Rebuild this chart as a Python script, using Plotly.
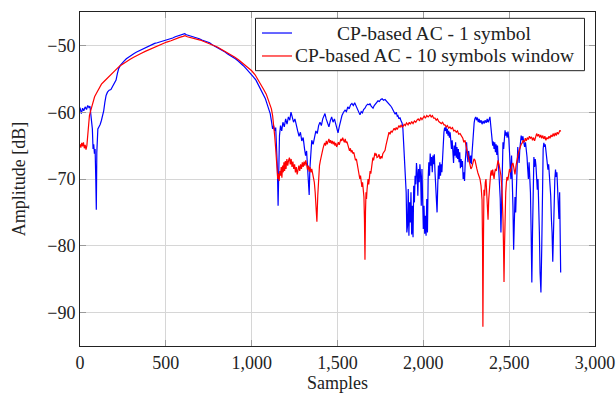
import plotly.graph_objects as go

# ---------------- data ----------------
x_ticks = [0, 500, 1000, 1500, 2000, 2500, 3000]
x_tick_labels = ["0", "500", "1,000", "1,500", "2,000", "2,500", "3,000"]
y_ticks = [-90, -80, -70, -60, -50]
y_tick_labels = ["\u221290", "\u221280", "\u221270", "\u221260", "\u221250"]

x_title = "Samples"
y_title = "Amplitude [dB]"
series_names = ["CP-based AC - 1 symbol", "CP-based AC - 10 symbols window"]
series_colors = ["#0000ff", "#ff0000"]

blue_points = [
    (0, -59.3), (8, -60.2), (15, -59.4), (22, -59.8), (30, -59.2), (38, -59.6), (45, -59.0), (52, -59.3),
    (58, -59.1), (63, -60.2), (68, -61.8), (72, -62.5), (76, -65.5), (80, -64.8), (84, -66.2), (88, -65.5),
    (92, -70.0), (95, -74.6), (98, -66.0), (101, -64.5), (104, -62.5), (110, -62.2), (118, -61.8), (125, -61.2),
    (132, -60.5), (138, -59.8), (145, -58.5), (152, -57.5), (160, -57.0), (170, -56.7), (180, -56.6), (190, -56.2),
    (200, -55.7), (210, -55.2), (218, -54.2), (225, -53.5), (235, -53.0), (245, -52.6), (255, -52.4), (270, -52.0),
    (285, -51.7), (300, -51.5), (315, -51.2), (330, -51.0), (345, -50.8), (360, -50.6), (375, -50.4), (390, -50.2),
    (405, -50.0), (420, -49.9), (435, -49.7), (450, -49.6), (465, -49.5), (480, -49.3), (495, -49.2), (510, -49.2),
    (525, -49.0), (540, -48.9), (555, -48.7), (570, -48.6), (585, -48.5), (600, -48.4), (610, -48.25), (620, -48.4),
    (635, -48.5), (650, -48.6), (665, -48.7), (680, -48.9), (695, -49.0), (710, -49.2), (725, -49.3), (740, -49.5),
    (755, -49.6), (770, -49.9), (785, -50.1), (800, -50.3), (815, -50.5), (830, -50.8), (845, -51.0), (860, -51.3),
    (875, -51.5), (890, -51.8), (905, -52.0), (920, -52.3), (935, -52.6), (950, -53.0), (965, -53.4), (980, -53.8),
    (995, -54.3), (1010, -54.7), (1025, -55.2), (1040, -56.0), (1050, -56.5), (1060, -57.0), (1070, -57.5),
    (1080, -58.0), (1090, -58.8), (1100, -59.5), (1108, -60.2), (1115, -61.3), (1122, -62.5), (1128, -62.0),
    (1134, -62.8), (1140, -62.3), (1145, -64.5), (1150, -68.5), (1154, -74.0), (1158, -66.5), (1162, -63.5),
    (1168, -62.0), (1175, -62.8), (1182, -61.5), (1190, -62.2), (1198, -61.0), (1206, -61.8), (1214, -60.7),
    (1222, -61.2), (1229, -60.0), (1236, -60.8), (1244, -61.5), (1252, -61.0), (1260, -62.2), (1268, -62.8),
    (1276, -63.6), (1284, -63.0), (1292, -64.3), (1300, -63.8), (1308, -65.5), (1314, -66.5), (1320, -65.8),
    (1326, -68.0), (1331, -70.5), (1335, -72.4), (1339, -68.5), (1344, -65.5), (1350, -64.2), (1358, -64.8),
    (1366, -63.5), (1374, -62.8), (1382, -63.2), (1390, -62.0), (1398, -61.5), (1406, -62.0), (1414, -61.0),
    (1421, -60.6), (1427, -60.2), (1434, -61.0), (1442, -61.8), (1450, -62.2), (1458, -61.3), (1466, -60.7),
    (1474, -61.5), (1482, -61.0), (1490, -61.8), (1497, -62.5), (1503, -63.1), (1510, -62.2), (1518, -61.2),
    (1526, -60.5), (1535, -60.0), (1544, -59.7), (1552, -59.9), (1560, -59.2), (1568, -59.5), (1576, -58.9),
    (1584, -58.7), (1592, -59.0), (1600, -58.6), (1608, -59.1), (1614, -59.2), (1620, -59.8), (1626, -60.2),
    (1631, -60.4), (1638, -59.9), (1645, -60.1), (1652, -59.6), (1660, -59.4), (1668, -59.0), (1676, -58.8),
    (1684, -58.9), (1689, -58.7), (1696, -59.1), (1702, -59.3), (1707, -59.4), (1714, -59.0), (1722, -58.7),
    (1729, -58.5), (1736, -58.3), (1744, -58.4), (1752, -58.1), (1760, -58.0), (1768, -58.2), (1777, -58.1),
    (1785, -58.3), (1793, -58.6), (1800, -58.7), (1808, -59.0), (1816, -59.3), (1824, -59.6), (1830, -60.0),
    (1836, -60.3), (1842, -60.0), (1848, -60.6), (1852, -60.5), (1858, -61.0), (1864, -60.8), (1870, -61.3),
    (1876, -61.6), (1881, -62.5), (1885, -64.2), (1890, -66.5), (1895, -69.0), (1900, -72.0), (1904, -78.0),
    (1908, -77.0), (1912, -71.5), (1916, -78.5), (1920, -73.5), (1924, -76.5), (1928, -72.0), (1932, -78.3),
    (1936, -74.0), (1940, -78.7), (1944, -71.0), (1948, -73.5), (1952, -69.5), (1956, -70.8), (1960, -67.6),
    (1964, -69.0), (1968, -72.5), (1972, -68.5), (1976, -70.5), (1980, -67.8), (1984, -69.5), (1988, -74.0),
    (1992, -68.5), (1996, -72.0), (2000, -77.5), (2004, -74.0), (2008, -78.2), (2012, -75.5), (2016, -78.5),
    (2020, -73.0), (2024, -78.0), (2028, -70.0), (2032, -67.5), (2036, -69.5), (2040, -66.2), (2044, -68.0),
    (2048, -66.7), (2052, -69.0), (2056, -66.5), (2060, -67.8), (2064, -66.3), (2068, -69.0), (2072, -71.5),
    (2076, -73.5), (2080, -75.0), (2084, -71.0), (2088, -68.0), (2092, -70.0), (2096, -67.5), (2100, -69.5),
    (2104, -67.8), (2108, -69.0), (2112, -66.5), (2116, -64.5), (2120, -63.0), (2124, -62.3), (2128, -62.8),
    (2132, -62.2), (2136, -63.2), (2140, -62.5), (2144, -63.5), (2148, -62.8), (2152, -63.8), (2156, -63.0),
    (2160, -64.0), (2164, -65.5), (2168, -64.2), (2172, -66.0), (2176, -67.6), (2180, -65.0), (2184, -66.5),
    (2188, -64.5), (2192, -66.8), (2196, -65.2), (2200, -67.0), (2204, -65.5), (2208, -67.5), (2212, -66.0),
    (2216, -68.4), (2220, -67.0), (2224, -68.2), (2228, -67.3), (2232, -70.0), (2236, -69.0), (2240, -70.3),
    (2244, -67.5), (2248, -65.5), (2252, -64.5), (2256, -66.5), (2260, -67.5), (2264, -65.8), (2268, -67.2),
    (2272, -67.6), (2276, -66.5), (2280, -67.8), (2284, -66.0), (2288, -64.0), (2292, -62.5), (2296, -61.6),
    (2300, -61.0), (2305, -60.7), (2310, -61.2), (2315, -60.8), (2320, -61.5), (2325, -61.0), (2330, -61.6),
    (2336, -61.2), (2342, -61.8), (2348, -61.3), (2354, -61.7), (2360, -61.2), (2366, -61.6), (2372, -61.0),
    (2378, -61.5), (2384, -61.0), (2388, -60.7), (2392, -61.8), (2396, -63.0), (2400, -64.2), (2404, -65.0),
    (2408, -64.4), (2412, -65.5), (2416, -64.5), (2420, -66.0), (2424, -64.8), (2428, -66.4), (2432, -65.0),
    (2436, -67.0), (2440, -68.5), (2444, -70.0), (2448, -73.0), (2452, -78.0), (2456, -72.0), (2460, -66.0),
    (2464, -64.5), (2468, -65.5), (2472, -63.5), (2476, -62.7), (2480, -63.5), (2484, -63.0), (2488, -63.8),
    (2493, -62.9), (2498, -64.0), (2502, -65.5), (2506, -68.0), (2510, -70.0), (2514, -66.5), (2518, -69.5),
    (2522, -74.0), (2526, -80.6), (2530, -76.0), (2534, -72.7), (2538, -75.0), (2542, -70.5), (2546, -67.0),
    (2550, -65.2), (2554, -66.5), (2558, -67.6), (2562, -65.5), (2566, -64.5), (2570, -63.5), (2575, -64.2),
    (2580, -63.6), (2585, -64.5), (2590, -65.2), (2595, -64.5), (2600, -65.5), (2604, -66.7), (2608, -68.5),
    (2612, -70.0), (2616, -67.5), (2620, -69.5), (2624, -72.0), (2628, -78.0), (2632, -85.5), (2636, -78.0),
    (2640, -68.0), (2644, -66.7), (2648, -68.2), (2652, -67.0), (2656, -68.0), (2660, -69.5), (2664, -71.6),
    (2668, -70.0), (2672, -73.0), (2676, -78.0), (2680, -84.0), (2685, -87.0), (2690, -80.0), (2694, -70.0),
    (2698, -65.5), (2702, -64.6), (2706, -65.2), (2710, -64.8), (2714, -65.7), (2718, -66.5), (2722, -67.2),
    (2726, -68.6), (2730, -67.8), (2734, -69.5), (2738, -70.0), (2742, -72.5), (2746, -76.0), (2750, -78.0),
    (2754, -82.4), (2758, -78.5), (2762, -72.0), (2766, -70.0), (2770, -68.6), (2774, -69.7), (2778, -69.0),
    (2782, -71.6), (2786, -74.0), (2790, -76.0), (2794, -72.0), (2797, -80.0), (2800, -84.0),
]

red_points = [
    (0, -64.8), (5, -65.3), (10, -64.6), (15, -65.1), (20, -64.5), (25, -65.4), (30, -64.9), (35, -65.6),
    (40, -65.0), (45, -63.5), (50, -61.5), (55, -60.5), (60, -60.0), (68, -59.3), (76, -58.4), (85, -57.7),
    (95, -57.2), (105, -56.7), (115, -56.2), (125, -55.8), (140, -55.4), (155, -55.0), (170, -54.6), (185, -54.2),
    (200, -53.8), (215, -53.5), (230, -53.1), (250, -52.8), (270, -52.4), (290, -52.1), (310, -51.8), (330, -51.5),
    (355, -51.2), (380, -50.9), (405, -50.6), (430, -50.3), (455, -50.0), (480, -49.8), (505, -49.5), (530, -49.3),
    (555, -49.0), (580, -48.8), (600, -48.65), (612, -48.55), (625, -48.7), (650, -48.85), (675, -49.05),
    (700, -49.2), (725, -49.45), (750, -49.7), (775, -50.0), (800, -50.25), (825, -50.6), (850, -50.95),
    (875, -51.3), (900, -51.75), (925, -52.2), (950, -52.7), (975, -53.2), (1000, -53.8), (1020, -54.4),
    (1040, -55.2), (1055, -56.0), (1070, -56.6), (1085, -57.3), (1095, -58.0), (1105, -58.8), (1115, -59.5),
    (1122, -60.5), (1128, -61.8), (1134, -63.5), (1140, -65.5), (1146, -68.0), (1152, -70.0), (1156, -69.2),
    (1160, -70.3), (1164, -68.8), (1168, -69.5), (1172, -68.2), (1176, -69.8), (1180, -68.0), (1184, -69.0),
    (1188, -67.5), (1192, -68.8), (1196, -67.3), (1200, -68.5), (1205, -67.0), (1210, -68.0), (1215, -67.2),
    (1220, -66.8), (1225, -67.8), (1230, -67.0), (1235, -68.2), (1240, -67.4), (1245, -68.5), (1250, -67.8),
    (1255, -69.0), (1260, -68.2), (1265, -69.3), (1270, -68.7), (1275, -68.0), (1280, -68.8), (1285, -67.8),
    (1290, -68.5), (1295, -67.5), (1300, -68.2), (1305, -67.4), (1310, -68.0), (1315, -67.2), (1320, -67.8),
    (1325, -68.6), (1330, -68.0), (1335, -68.9), (1340, -68.2), (1345, -69.0), (1350, -68.5), (1355, -69.3),
    (1360, -69.8), (1365, -70.5), (1370, -72.0), (1375, -74.5), (1380, -76.4), (1385, -72.5), (1390, -69.5),
    (1395, -68.0), (1400, -67.3), (1405, -66.5), (1410, -65.8), (1415, -65.5), (1420, -65.0), (1425, -64.6),
    (1430, -65.0), (1435, -64.3), (1440, -64.8), (1445, -64.5), (1450, -64.0), (1455, -64.6), (1460, -64.2),
    (1465, -64.7), (1470, -64.3), (1475, -64.8), (1480, -64.4), (1485, -65.0), (1490, -64.6), (1495, -65.2),
    (1500, -64.8), (1505, -64.5), (1510, -64.9), (1515, -64.4), (1520, -64.0), (1525, -64.3), (1530, -63.8),
    (1535, -64.2), (1540, -64.5), (1545, -64.0), (1550, -64.6), (1555, -64.4), (1560, -65.0), (1565, -65.3),
    (1570, -65.8), (1575, -65.4), (1580, -66.0), (1585, -65.7), (1590, -66.2), (1595, -66.0), (1600, -66.8),
    (1605, -67.2), (1610, -67.0), (1614, -67.6), (1620, -68.5), (1625, -69.3), (1630, -70.0), (1634, -69.5),
    (1638, -71.0), (1642, -71.2), (1646, -70.5), (1650, -72.0), (1654, -72.7), (1657, -76.0), (1660, -82.1),
    (1663, -75.0), (1666, -72.0), (1669, -73.0), (1672, -71.6), (1675, -70.8), (1678, -70.0), (1682, -70.8),
    (1686, -69.5), (1690, -68.8), (1694, -69.2), (1698, -68.0), (1702, -67.6), (1706, -66.8), (1710, -67.2),
    (1714, -66.4), (1718, -66.1), (1722, -66.5), (1726, -66.2), (1730, -66.8), (1736, -66.7), (1742, -66.3),
    (1748, -67.0), (1754, -66.6), (1759, -66.9), (1764, -66.2), (1770, -66.0), (1777, -65.7), (1782, -65.0),
    (1788, -64.2), (1794, -63.4), (1800, -63.0), (1806, -63.3), (1812, -62.8), (1818, -63.0), (1823, -62.7),
    (1830, -62.4), (1836, -62.7), (1842, -62.3), (1848, -62.6), (1852, -62.4), (1858, -62.0), (1864, -62.3),
    (1870, -61.9), (1876, -62.2), (1881, -62.2), (1888, -61.8), (1895, -62.0), (1902, -61.6), (1911, -61.9),
    (1918, -61.5), (1925, -61.8), (1932, -61.4), (1940, -61.7), (1948, -61.3), (1956, -61.5), (1963, -61.2),
    (1970, -61.0), (1978, -61.3), (1985, -60.8), (1992, -61.1), (1998, -60.8), (2005, -60.6), (2012, -60.9),
    (2020, -60.5), (2028, -60.7), (2035, -60.4), (2039, -60.4), (2046, -60.7), (2053, -60.5), (2060, -60.9),
    (2068, -60.9), (2075, -61.2), (2082, -61.0), (2090, -61.4), (2097, -61.5), (2105, -61.7), (2112, -61.5),
    (2120, -61.9), (2126, -61.9), (2133, -62.2), (2140, -62.0), (2148, -62.4), (2155, -62.2), (2162, -62.5),
    (2170, -62.3), (2177, -62.8), (2184, -62.7), (2192, -63.0), (2199, -62.8), (2206, -63.3), (2214, -63.2),
    (2222, -63.6), (2230, -63.9), (2236, -64.5), (2243, -64.2), (2248, -65.0), (2254, -65.8), (2260, -66.1),
    (2266, -67.0), (2272, -68.0), (2277, -68.5), (2283, -68.2), (2289, -67.5), (2295, -67.0), (2301, -67.2),
    (2306, -68.0), (2312, -68.5), (2318, -69.1), (2324, -69.5), (2330, -70.0), (2336, -71.0), (2342, -73.1),
    (2345, -80.0), (2347, -92.1), (2350, -80.0), (2353, -71.6), (2357, -72.5), (2361, -70.5), (2365, -70.0),
    (2369, -72.0), (2373, -74.6), (2377, -76.1), (2381, -73.0), (2385, -71.0), (2388, -70.0), (2392, -69.2),
    (2396, -68.7), (2400, -69.5), (2404, -68.6), (2408, -69.5), (2412, -70.0), (2416, -69.0), (2420, -68.5),
    (2425, -68.8), (2429, -68.2), (2435, -67.2), (2441, -67.8), (2447, -68.5), (2452, -69.5), (2458, -71.6),
    (2462, -74.0), (2464, -76.0), (2467, -80.0), (2470, -85.4), (2473, -80.0), (2476, -74.6), (2480, -72.0),
    (2484, -70.5), (2487, -69.7), (2492, -70.2), (2497, -69.0), (2502, -68.5), (2507, -69.0), (2512, -68.0),
    (2517, -67.8), (2522, -67.6), (2528, -68.5), (2534, -69.3), (2540, -68.0), (2546, -67.0), (2552, -66.3),
    (2558, -65.8), (2563, -65.2), (2570, -64.8), (2576, -64.6), (2581, -64.2), (2588, -64.5), (2594, -63.9),
    (2600, -64.3), (2606, -63.8), (2612, -64.1), (2618, -63.6), (2624, -63.9), (2630, -63.7), (2636, -64.2),
    (2642, -63.8), (2648, -64.3), (2654, -63.5), (2660, -63.2), (2666, -63.6), (2672, -63.3), (2678, -63.8),
    (2684, -63.4), (2690, -63.9), (2696, -63.5), (2702, -64.0), (2708, -63.6), (2714, -64.2), (2720, -63.8),
    (2726, -64.0), (2732, -63.6), (2738, -63.9), (2744, -63.4), (2750, -63.7), (2756, -63.2), (2762, -63.6),
    (2768, -63.1), (2774, -63.5), (2780, -63.0), (2786, -63.3), (2792, -62.8), (2796, -62.7), (2800, -62.9),
]

blue_x = [p[0] for p in blue_points]
blue_y = [p[1] for p in blue_points]
red_x = [p[0] for p in red_points]
red_y = [p[1] for p in red_points]

FONT = "Liberation Serif"
TXT = "#222222"

fig = go.Figure()
fig.add_trace(go.Scatter(x=blue_x, y=blue_y, mode="lines", name=series_names[0],
                         line=dict(color=series_colors[0], width=1.2), showlegend=False))
fig.add_trace(go.Scatter(x=red_x, y=red_y, mode="lines", name=series_names[1],
                         line=dict(color=series_colors[1], width=1.2), showlegend=False))

axis_common = dict(
    showgrid=True, gridcolor="#d6d6d6", gridwidth=1,
    showline=True, linecolor=TXT, linewidth=1, mirror="ticks",
    ticks="inside", ticklen=6, tickcolor="#9a9a9a", tickwidth=1,
    zeroline=False, automargin=False,
    tickfont=dict(family=FONT, size=18, color=TXT),
)

fig.update_xaxes(range=[0, 3000], tickvals=x_ticks, ticktext=x_tick_labels, **axis_common)
fig.update_yaxes(range=[-95, -45], tickvals=y_ticks, ticktext=y_tick_labels,
                 title=dict(text=y_title, font=dict(family=FONT, size=18, color=TXT), standoff=16),
                 **axis_common)

# legend box drawn in paper coordinates (centred entries, as in the reference)
leg_x0, leg_x1, leg_y0, leg_y1 = 0.3408, 0.9796, 0.8243, 0.9811
row_y = [0.9371, 0.8683]
sample_x0, sample_x1 = 0.3534, 0.4117
text_xc = 0.6893

shapes = [dict(type="rect", xref="paper", yref="paper", x0=leg_x0, x1=leg_x1, y0=leg_y0, y1=leg_y1,
               fillcolor="white", line=dict(color=TXT, width=1), layer="above")]
annotations = [dict(xref="paper", yref="paper", x=0.5, y=-0.111, text=x_title, showarrow=False,
                    xanchor="center", yanchor="middle",
                    font=dict(family=FONT, size=18, color=TXT))]
for name, color, ry in zip(series_names, series_colors, row_y):
    shapes.append(dict(type="line", xref="paper", yref="paper", x0=sample_x0, x1=sample_x1, y0=ry, y1=ry,
                       line=dict(color=color, width=1.2), layer="above"))
    annotations.append(dict(xref="paper", yref="paper", x=text_xc, y=ry, text=name, showarrow=False,
                            xanchor="center", yanchor="middle",
                            font=dict(family=FONT, size=19.5, color=TXT)))

fig.update_layout(
    width=616, height=394,
    margin=dict(l=80, r=21, t=12, b=48, autoexpand=False),
    plot_bgcolor="white", paper_bgcolor="white",
    font=dict(family=FONT, size=18, color=TXT),
    showlegend=False,
    shapes=shapes, annotations=annotations,
)

fig.write_html("out.html")
